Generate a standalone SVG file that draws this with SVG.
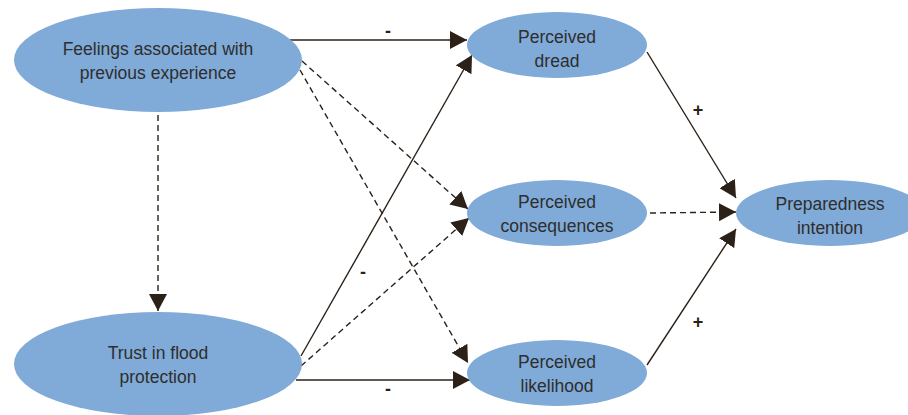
<svg xmlns="http://www.w3.org/2000/svg" width="908" height="415" viewBox="0 0 908 415">
  <defs>
    <marker id="arrow" markerUnits="userSpaceOnUse" markerWidth="17" markerHeight="18" refX="17" refY="9" orient="auto">
      <path d="M0,0 L17,9 L0,18 z" fill="#2b2118"/>
    </marker>
    <style>
      .node { fill: #80aad7; }
      .label { font-family: "Liberation Sans", Arial, sans-serif; font-size: 17.5px; fill: #2e2e2e; text-anchor: middle; }
      .sign { font-family: "Liberation Sans", Arial, sans-serif; font-size: 18px; font-weight: bold; fill: #2b2118; text-anchor: middle; }
      .edge { stroke: #2b2118; stroke-width: 1.4; fill: none; marker-end: url(#arrow); }
      .dashed { stroke-dasharray: 6 4; }
    </style>
  </defs>
  <rect width="908" height="415" fill="#ffffff"/>

  <g id="connectors">
    <line class="edge" x1="290" y1="40" x2="467" y2="40"/>
    <line class="edge dashed" x1="302" y1="61" x2="468" y2="209"/>
    <line class="edge dashed" x1="300" y1="70" x2="468" y2="363"/>
    <line class="edge dashed" x1="158" y1="115" x2="158" y2="311"/>
    <line class="edge" x1="301" y1="356" x2="472" y2="55"/>
    <line class="edge dashed" x1="301" y1="366" x2="469" y2="218"/>
    <line class="edge" x1="296" y1="380" x2="470" y2="380"/>
    <line class="edge" x1="647" y1="52" x2="736" y2="198"/>
    <line class="edge dashed" x1="650" y1="213" x2="736" y2="212"/>
    <line class="edge" x1="647" y1="365" x2="736" y2="229"/>
    <text class="sign" x="388" y="37">-</text>
    <text class="sign" x="363" y="278">-</text>
    <text class="sign" x="388" y="395">-</text>
    <text class="sign" x="698" y="116">+</text>
    <text class="sign" x="698" y="328">+</text>
  </g>

  <g id="feelings">
    <ellipse class="node" cx="158" cy="60" rx="144" ry="52"/>
    <text class="label" x="158" y="55">Feelings associated with</text>
    <text class="label" x="158" y="79">previous experience</text>
  </g>

  <g id="trust">
    <ellipse class="node" cx="158" cy="364" rx="144" ry="52"/>
    <text class="label" x="158" y="359">Trust in flood</text>
    <text class="label" x="158" y="383">protection</text>
  </g>

  <g id="dread">
    <ellipse class="node" cx="557" cy="45" rx="90" ry="33"/>
    <text class="label" x="557" y="43">Perceived</text>
    <text class="label" x="557" y="67">dread</text>
  </g>

  <g id="consequences">
    <ellipse class="node" cx="557" cy="213" rx="90" ry="33"/>
    <text class="label" x="557" y="208">Perceived</text>
    <text class="label" x="557" y="232">consequences</text>
  </g>

  <g id="likelihood">
    <ellipse class="node" cx="557" cy="373" rx="90" ry="33"/>
    <text class="label" x="557" y="368">Perceived</text>
    <text class="label" x="557" y="392">likelihood</text>
  </g>

  <g id="preparedness">
    <ellipse class="node" cx="830" cy="213" rx="94" ry="33"/>
    <text class="label" x="830" y="210">Preparedness</text>
    <text class="label" x="830" y="234">intention</text>
  </g>
</svg>
